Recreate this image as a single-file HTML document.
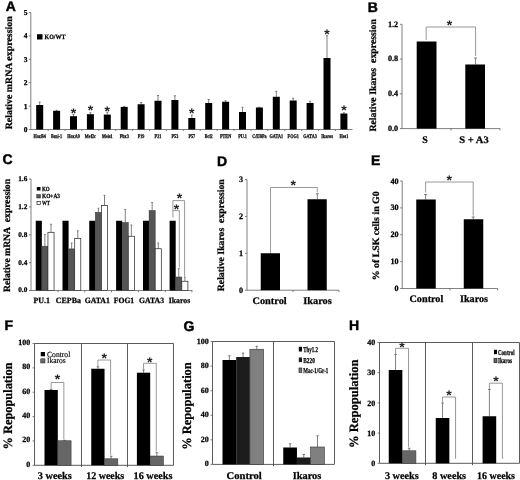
<!DOCTYPE html>
<html lang="en">
<head>
<meta charset="utf-8">
<title>Figure</title>
<style>
html,body{margin:0;padding:0;background:#fff;}
body{width:520px;height:480px;overflow:hidden;}
svg{display:block;text-rendering:geometricPrecision;}
text.s{font-family:'Liberation Serif', serif;font-weight:bold;stroke:#000;stroke-width:0.25px;}
text.r{font-family:'Liberation Serif', serif;font-weight:normal;stroke:#000;stroke-width:0.15px;}
text.a{font-family:'Liberation Sans', sans-serif;font-weight:bold;}
</style>
</head>
<body>
<svg width="520" height="480" viewBox="0 0 520 480">
<defs><filter id="soft" x="0" y="0" width="520" height="480" filterUnits="userSpaceOnUse"><feGaussianBlur stdDeviation="0.4"/></filter></defs>
<rect x="0" y="0" width="520" height="480" fill="#fff"/>
<g filter="url(#soft)">
<text class="a" x="5.80" y="10.80" font-size="14" stroke="#000" stroke-width="0.45">A</text>
<line x1="30.80" y1="12.50" x2="30.80" y2="129.50" stroke="#555" stroke-width="0.75"/>
<line x1="30.80" y1="129.50" x2="352.50" y2="129.50" stroke="#555" stroke-width="0.75"/>
<line x1="28.80" y1="129.50" x2="30.80" y2="129.50" stroke="#555" stroke-width="0.75"/>
<text class="s" x="27.50" y="132.00" font-size="7.5" text-anchor="end">0</text>
<line x1="28.80" y1="106.10" x2="30.80" y2="106.10" stroke="#555" stroke-width="0.75"/>
<text class="s" x="27.50" y="108.60" font-size="7.5" text-anchor="end">1</text>
<line x1="28.80" y1="82.70" x2="30.80" y2="82.70" stroke="#555" stroke-width="0.75"/>
<text class="s" x="27.50" y="85.20" font-size="7.5" text-anchor="end">2</text>
<line x1="28.80" y1="59.30" x2="30.80" y2="59.30" stroke="#555" stroke-width="0.75"/>
<text class="s" x="27.50" y="61.80" font-size="7.5" text-anchor="end">3</text>
<line x1="28.80" y1="35.90" x2="30.80" y2="35.90" stroke="#555" stroke-width="0.75"/>
<text class="s" x="27.50" y="38.40" font-size="7.5" text-anchor="end">4</text>
<line x1="28.80" y1="12.50" x2="30.80" y2="12.50" stroke="#555" stroke-width="0.75"/>
<text class="s" x="27.50" y="15.00" font-size="7.5" text-anchor="end">5</text>
<text class="s" x="12.10" y="72.80" font-size="9.7" text-anchor="middle" textLength="113.00" lengthAdjust="spacingAndGlyphs" transform="rotate(-90 12.10 72.80)">Relative mRNA expression</text>
<rect x="37.00" y="34.20" width="5.50" height="5.30" fill="#000"/>
<text class="s" x="44.50" y="39.30" font-size="6.6" textLength="21.00" lengthAdjust="spacingAndGlyphs">KO/WT</text>
<line x1="39.70" y1="102.10" x2="39.70" y2="105.00" stroke="#555" stroke-width="0.75"/>
<line x1="38.70" y1="102.10" x2="40.70" y2="102.10" stroke="#555" stroke-width="0.75"/>
<rect x="36.20" y="105.00" width="7.00" height="24.50" fill="#000"/>
<text class="s" x="39.70" y="137.80" font-size="5.6" text-anchor="middle" textLength="12.37" lengthAdjust="spacingAndGlyphs" stroke-width="0.4">HoxB4</text>
<line x1="48.15" y1="129.50" x2="48.15" y2="131.00" stroke="#555" stroke-width="0.75"/>
<line x1="56.60" y1="110.30" x2="56.60" y2="110.80" stroke="#555" stroke-width="0.75"/>
<line x1="55.60" y1="110.30" x2="57.60" y2="110.30" stroke="#555" stroke-width="0.75"/>
<rect x="53.10" y="110.80" width="7.00" height="18.70" fill="#000"/>
<text class="s" x="56.60" y="137.80" font-size="5.6" text-anchor="middle" textLength="10.97" lengthAdjust="spacingAndGlyphs" stroke-width="0.4">Bmi-1</text>
<line x1="65.05" y1="129.50" x2="65.05" y2="131.00" stroke="#555" stroke-width="0.75"/>
<line x1="73.50" y1="114.60" x2="73.50" y2="116.20" stroke="#555" stroke-width="0.75"/>
<line x1="72.50" y1="114.60" x2="74.50" y2="114.60" stroke="#555" stroke-width="0.75"/>
<rect x="70.00" y="116.20" width="7.00" height="13.30" fill="#000"/>
<text class="s" x="73.50" y="137.80" font-size="5.6" text-anchor="middle" textLength="12.60" lengthAdjust="spacingAndGlyphs" stroke-width="0.4">HoxA9</text>
<line x1="81.95" y1="129.50" x2="81.95" y2="131.00" stroke="#555" stroke-width="0.75"/>
<text class="a" x="73.50" y="117.67" font-size="14" text-anchor="middle" fill="#222">*</text>
<line x1="90.40" y1="112.80" x2="90.40" y2="114.20" stroke="#555" stroke-width="0.75"/>
<line x1="89.40" y1="112.80" x2="91.40" y2="112.80" stroke="#555" stroke-width="0.75"/>
<rect x="86.90" y="114.20" width="7.00" height="15.30" fill="#000"/>
<text class="s" x="90.40" y="137.80" font-size="5.6" text-anchor="middle" textLength="11.19" lengthAdjust="spacingAndGlyphs" stroke-width="0.4">Mef2c</text>
<line x1="98.85" y1="129.50" x2="98.85" y2="131.00" stroke="#555" stroke-width="0.75"/>
<text class="a" x="90.40" y="115.47" font-size="14" text-anchor="middle" fill="#222">*</text>
<line x1="107.30" y1="112.30" x2="107.30" y2="114.60" stroke="#555" stroke-width="0.75"/>
<line x1="106.30" y1="112.30" x2="108.30" y2="112.30" stroke="#555" stroke-width="0.75"/>
<rect x="103.80" y="114.60" width="7.00" height="14.90" fill="#000"/>
<text class="s" x="107.30" y="137.80" font-size="5.6" text-anchor="middle" textLength="10.73" lengthAdjust="spacingAndGlyphs" stroke-width="0.4">Meis1</text>
<line x1="115.75" y1="129.50" x2="115.75" y2="131.00" stroke="#555" stroke-width="0.75"/>
<text class="a" x="107.30" y="115.77" font-size="14" text-anchor="middle" fill="#222">*</text>
<line x1="124.20" y1="106.40" x2="124.20" y2="106.90" stroke="#555" stroke-width="0.75"/>
<line x1="123.20" y1="106.40" x2="125.20" y2="106.40" stroke="#555" stroke-width="0.75"/>
<rect x="120.70" y="106.90" width="7.00" height="22.60" fill="#000"/>
<text class="s" x="124.20" y="137.80" font-size="5.6" text-anchor="middle" textLength="9.10" lengthAdjust="spacingAndGlyphs" stroke-width="0.4">Pbx3</text>
<line x1="132.65" y1="129.50" x2="132.65" y2="131.00" stroke="#555" stroke-width="0.75"/>
<line x1="141.10" y1="102.50" x2="141.10" y2="104.25" stroke="#555" stroke-width="0.75"/>
<line x1="140.10" y1="102.50" x2="142.10" y2="102.50" stroke="#555" stroke-width="0.75"/>
<rect x="137.60" y="104.25" width="7.00" height="25.25" fill="#000"/>
<text class="s" x="141.10" y="137.80" font-size="5.6" text-anchor="middle" textLength="6.77" lengthAdjust="spacingAndGlyphs" stroke-width="0.4">P19</text>
<line x1="149.55" y1="129.50" x2="149.55" y2="131.00" stroke="#555" stroke-width="0.75"/>
<line x1="158.00" y1="95.50" x2="158.00" y2="100.75" stroke="#555" stroke-width="0.75"/>
<line x1="157.00" y1="95.50" x2="159.00" y2="95.50" stroke="#555" stroke-width="0.75"/>
<rect x="154.50" y="100.75" width="7.00" height="28.75" fill="#000"/>
<text class="s" x="158.00" y="137.80" font-size="5.6" text-anchor="middle" textLength="6.77" lengthAdjust="spacingAndGlyphs" stroke-width="0.4">P21</text>
<line x1="166.45" y1="129.50" x2="166.45" y2="131.00" stroke="#555" stroke-width="0.75"/>
<line x1="174.90" y1="95.75" x2="174.90" y2="100.00" stroke="#555" stroke-width="0.75"/>
<line x1="173.90" y1="95.75" x2="175.90" y2="95.75" stroke="#555" stroke-width="0.75"/>
<rect x="171.40" y="100.00" width="7.00" height="29.50" fill="#000"/>
<text class="s" x="174.90" y="137.80" font-size="5.6" text-anchor="middle" textLength="6.77" lengthAdjust="spacingAndGlyphs" stroke-width="0.4">P53</text>
<line x1="183.35" y1="129.50" x2="183.35" y2="131.00" stroke="#555" stroke-width="0.75"/>
<line x1="191.80" y1="115.00" x2="191.80" y2="118.00" stroke="#555" stroke-width="0.75"/>
<line x1="190.80" y1="115.00" x2="192.80" y2="115.00" stroke="#555" stroke-width="0.75"/>
<rect x="188.30" y="118.00" width="7.00" height="11.50" fill="#000"/>
<text class="s" x="191.80" y="137.80" font-size="5.6" text-anchor="middle" textLength="6.77" lengthAdjust="spacingAndGlyphs" stroke-width="0.4">P57</text>
<line x1="200.25" y1="129.50" x2="200.25" y2="131.00" stroke="#555" stroke-width="0.75"/>
<text class="a" x="191.80" y="118.27" font-size="14" text-anchor="middle" fill="#222">*</text>
<line x1="208.70" y1="99.50" x2="208.70" y2="103.00" stroke="#555" stroke-width="0.75"/>
<line x1="207.70" y1="99.50" x2="209.70" y2="99.50" stroke="#555" stroke-width="0.75"/>
<rect x="205.20" y="103.00" width="7.00" height="26.50" fill="#000"/>
<text class="s" x="208.70" y="137.80" font-size="5.6" text-anchor="middle" textLength="7.93" lengthAdjust="spacingAndGlyphs" stroke-width="0.4">Bcl2</text>
<line x1="217.15" y1="129.50" x2="217.15" y2="131.00" stroke="#555" stroke-width="0.75"/>
<line x1="225.60" y1="100.75" x2="225.60" y2="101.75" stroke="#555" stroke-width="0.75"/>
<line x1="224.60" y1="100.75" x2="226.60" y2="100.75" stroke="#555" stroke-width="0.75"/>
<rect x="222.10" y="101.75" width="7.00" height="27.75" fill="#000"/>
<text class="s" x="225.60" y="137.80" font-size="5.6" text-anchor="middle" textLength="11.20" lengthAdjust="spacingAndGlyphs" stroke-width="0.4">PTEN</text>
<line x1="234.05" y1="129.50" x2="234.05" y2="131.00" stroke="#555" stroke-width="0.75"/>
<line x1="242.50" y1="107.30" x2="242.50" y2="112.00" stroke="#555" stroke-width="0.75"/>
<line x1="241.50" y1="107.30" x2="243.50" y2="107.30" stroke="#555" stroke-width="0.75"/>
<rect x="239.00" y="112.00" width="7.00" height="17.50" fill="#000"/>
<text class="s" x="242.50" y="137.80" font-size="5.6" text-anchor="middle" textLength="8.75" lengthAdjust="spacingAndGlyphs" stroke-width="0.4">PU.1</text>
<line x1="250.95" y1="129.50" x2="250.95" y2="131.00" stroke="#555" stroke-width="0.75"/>
<line x1="259.40" y1="107.20" x2="259.40" y2="107.50" stroke="#555" stroke-width="0.75"/>
<line x1="258.40" y1="107.20" x2="260.40" y2="107.20" stroke="#555" stroke-width="0.75"/>
<rect x="255.90" y="107.50" width="7.00" height="22.00" fill="#000"/>
<text class="s" x="259.40" y="137.80" font-size="5.6" text-anchor="middle" textLength="14.47" lengthAdjust="spacingAndGlyphs" stroke-width="0.4">C/EBPa</text>
<line x1="267.85" y1="129.50" x2="267.85" y2="131.00" stroke="#555" stroke-width="0.75"/>
<line x1="276.30" y1="91.25" x2="276.30" y2="96.75" stroke="#555" stroke-width="0.75"/>
<line x1="275.30" y1="91.25" x2="277.30" y2="91.25" stroke="#555" stroke-width="0.75"/>
<rect x="272.80" y="96.75" width="7.00" height="32.75" fill="#000"/>
<text class="s" x="276.30" y="137.80" font-size="5.6" text-anchor="middle" textLength="13.61" lengthAdjust="spacingAndGlyphs" stroke-width="0.4">GATA1</text>
<line x1="284.75" y1="129.50" x2="284.75" y2="131.00" stroke="#555" stroke-width="0.75"/>
<line x1="293.20" y1="98.25" x2="293.20" y2="100.50" stroke="#555" stroke-width="0.75"/>
<line x1="292.20" y1="98.25" x2="294.20" y2="98.25" stroke="#555" stroke-width="0.75"/>
<rect x="289.70" y="100.50" width="7.00" height="29.00" fill="#000"/>
<text class="s" x="293.20" y="137.80" font-size="5.6" text-anchor="middle" textLength="11.20" lengthAdjust="spacingAndGlyphs" stroke-width="0.4">FOG1</text>
<line x1="301.65" y1="129.50" x2="301.65" y2="131.00" stroke="#555" stroke-width="0.75"/>
<line x1="310.10" y1="101.25" x2="310.10" y2="103.00" stroke="#555" stroke-width="0.75"/>
<line x1="309.10" y1="101.25" x2="311.10" y2="101.25" stroke="#555" stroke-width="0.75"/>
<rect x="306.60" y="103.00" width="7.00" height="26.50" fill="#000"/>
<text class="s" x="310.10" y="137.80" font-size="5.6" text-anchor="middle" textLength="13.61" lengthAdjust="spacingAndGlyphs" stroke-width="0.4">GATA3</text>
<line x1="318.55" y1="129.50" x2="318.55" y2="131.00" stroke="#555" stroke-width="0.75"/>
<line x1="327.00" y1="35.75" x2="327.00" y2="58.00" stroke="#555" stroke-width="0.75"/>
<line x1="326.00" y1="35.75" x2="328.00" y2="35.75" stroke="#555" stroke-width="0.75"/>
<rect x="323.50" y="58.00" width="7.00" height="71.50" fill="#000"/>
<text class="s" x="327.00" y="137.80" font-size="5.6" text-anchor="middle" textLength="11.59" lengthAdjust="spacingAndGlyphs" stroke-width="0.4">Ikaros</text>
<line x1="335.45" y1="129.50" x2="335.45" y2="131.00" stroke="#555" stroke-width="0.75"/>
<text class="a" x="327.00" y="39.07" font-size="14" text-anchor="middle" fill="#222">*</text>
<line x1="343.90" y1="112.80" x2="343.90" y2="113.50" stroke="#555" stroke-width="0.75"/>
<line x1="342.90" y1="112.80" x2="344.90" y2="112.80" stroke="#555" stroke-width="0.75"/>
<rect x="340.40" y="113.50" width="7.00" height="16.00" fill="#000"/>
<text class="s" x="343.90" y="137.80" font-size="5.6" text-anchor="middle" textLength="8.87" lengthAdjust="spacingAndGlyphs" stroke-width="0.4">Hes1</text>
<text class="a" x="343.90" y="115.07" font-size="14" text-anchor="middle" fill="#222">*</text>
<text class="a" x="367.80" y="11.50" font-size="14" stroke="#000" stroke-width="0.45">B</text>
<line x1="402.00" y1="24.30" x2="402.00" y2="128.60" stroke="#555" stroke-width="0.75"/>
<line x1="402.00" y1="128.60" x2="500.00" y2="128.60" stroke="#555" stroke-width="0.75"/>
<line x1="400.00" y1="128.60" x2="402.00" y2="128.60" stroke="#555" stroke-width="0.75"/>
<text class="s" x="398.20" y="130.80" font-size="8.2" text-anchor="end">0.0</text>
<line x1="400.00" y1="93.83" x2="402.00" y2="93.83" stroke="#555" stroke-width="0.75"/>
<text class="s" x="398.20" y="96.03" font-size="8.2" text-anchor="end">0.4</text>
<line x1="400.00" y1="59.07" x2="402.00" y2="59.07" stroke="#555" stroke-width="0.75"/>
<text class="s" x="398.20" y="61.27" font-size="8.2" text-anchor="end">0.8</text>
<line x1="400.00" y1="24.30" x2="402.00" y2="24.30" stroke="#555" stroke-width="0.75"/>
<text class="s" x="398.20" y="26.50" font-size="8.2" text-anchor="end">1.2</text>
<line x1="451.00" y1="128.60" x2="451.00" y2="130.40" stroke="#555" stroke-width="0.75"/>
<line x1="500.00" y1="128.60" x2="500.00" y2="130.40" stroke="#555" stroke-width="0.75"/>
<text class="s" x="376.10" y="75.30" font-size="9.7" text-anchor="middle" textLength="112.50" lengthAdjust="spacingAndGlyphs" transform="rotate(-90 376.10 75.30)">Relative Ikaros  expression</text>
<rect x="416.70" y="41.50" width="19.80" height="87.10" fill="#000"/>
<line x1="475.60" y1="58.00" x2="475.60" y2="64.50" stroke="#555" stroke-width="0.75"/>
<line x1="474.10" y1="58.00" x2="477.10" y2="58.00" stroke="#555" stroke-width="0.75"/>
<rect x="465.30" y="64.50" width="19.70" height="64.10" fill="#000"/>
<polyline points="426.20,40.00 426.20,27.00 475.60,27.00 475.60,56.00" fill="none" stroke="#777" stroke-width="0.75"/>
<text class="a" x="449.50" y="30.07" font-size="14" text-anchor="middle" fill="#222">*</text>
<text class="s" x="425.00" y="142.60" font-size="10" text-anchor="middle">S</text>
<text class="s" x="474.00" y="142.60" font-size="10" text-anchor="middle" textLength="29.50" lengthAdjust="spacingAndGlyphs">S + A3</text>
<text class="a" x="2.40" y="164.40" font-size="14" stroke="#000" stroke-width="0.45">C</text>
<line x1="31.00" y1="179.00" x2="31.00" y2="290.50" stroke="#555" stroke-width="0.75"/>
<line x1="31.00" y1="290.50" x2="192.50" y2="290.50" stroke="#555" stroke-width="0.75"/>
<line x1="29.00" y1="290.50" x2="31.00" y2="290.50" stroke="#555" stroke-width="0.75"/>
<text class="s" x="27.30" y="292.40" font-size="7.3" text-anchor="end">0.0</text>
<line x1="29.00" y1="262.62" x2="31.00" y2="262.62" stroke="#555" stroke-width="0.75"/>
<text class="s" x="27.30" y="264.52" font-size="7.3" text-anchor="end">0.4</text>
<line x1="29.00" y1="234.75" x2="31.00" y2="234.75" stroke="#555" stroke-width="0.75"/>
<text class="s" x="27.30" y="236.65" font-size="7.3" text-anchor="end">0.8</text>
<line x1="29.00" y1="206.88" x2="31.00" y2="206.88" stroke="#555" stroke-width="0.75"/>
<text class="s" x="27.30" y="208.78" font-size="7.3" text-anchor="end">1.2</text>
<line x1="29.00" y1="179.00" x2="31.00" y2="179.00" stroke="#555" stroke-width="0.75"/>
<text class="s" x="27.30" y="180.90" font-size="7.3" text-anchor="end">1.6</text>
<text class="s" x="9.70" y="235.50" font-size="9.7" text-anchor="middle" textLength="113.00" lengthAdjust="spacingAndGlyphs" transform="rotate(-90 9.70 235.50)">Relative mRNA  expression</text>
<rect x="36.80" y="187.00" width="3.70" height="3.50" fill="#000"/>
<text class="s" x="42.00" y="190.90" font-size="6.3" textLength="7.70" lengthAdjust="spacingAndGlyphs">KO</text>
<rect x="36.80" y="194.50" width="3.70" height="3.50" fill="#555" stroke="#222" stroke-width="0.5"/>
<text class="s" x="42.00" y="198.30" font-size="6.3" textLength="18.00" lengthAdjust="spacingAndGlyphs">KO+A3</text>
<rect x="37.00" y="201.40" width="3.30" height="3.00" fill="#fff" stroke="#222" stroke-width="0.7"/>
<text class="s" x="42.00" y="204.90" font-size="6.3" textLength="8.00" lengthAdjust="spacingAndGlyphs">WT</text>
<rect x="35.75" y="220.75" width="6.10" height="69.75" fill="#000"/>
<line x1="44.90" y1="234.60" x2="44.90" y2="246.20" stroke="#555" stroke-width="0.75"/>
<line x1="44.00" y1="234.60" x2="45.80" y2="234.60" stroke="#555" stroke-width="0.75"/>
<rect x="41.85" y="246.20" width="6.10" height="44.30" fill="#555" stroke="#333" stroke-width="0.5"/>
<line x1="51.00" y1="224.20" x2="51.00" y2="232.30" stroke="#555" stroke-width="0.75"/>
<line x1="50.10" y1="224.20" x2="51.90" y2="224.20" stroke="#555" stroke-width="0.75"/>
<rect x="47.95" y="232.30" width="6.10" height="58.20" fill="#fff" stroke="#222" stroke-width="0.7"/>
<text class="s" x="41.75" y="302.60" font-size="8" text-anchor="middle" textLength="16.50" lengthAdjust="spacingAndGlyphs">PU.1</text>
<line x1="58.05" y1="290.50" x2="58.05" y2="292.30" stroke="#555" stroke-width="0.75"/>
<rect x="62.50" y="220.75" width="6.10" height="69.75" fill="#000"/>
<line x1="71.65" y1="243.00" x2="71.65" y2="248.90" stroke="#555" stroke-width="0.75"/>
<line x1="70.75" y1="243.00" x2="72.55" y2="243.00" stroke="#555" stroke-width="0.75"/>
<rect x="68.60" y="248.90" width="6.10" height="41.60" fill="#555" stroke="#333" stroke-width="0.5"/>
<line x1="77.75" y1="230.80" x2="77.75" y2="238.50" stroke="#555" stroke-width="0.75"/>
<line x1="76.85" y1="230.80" x2="78.65" y2="230.80" stroke="#555" stroke-width="0.75"/>
<rect x="74.70" y="238.50" width="6.10" height="52.00" fill="#fff" stroke="#222" stroke-width="0.7"/>
<text class="s" x="68.35" y="302.60" font-size="8" text-anchor="middle" textLength="25.10" lengthAdjust="spacingAndGlyphs">CEPBa</text>
<line x1="84.80" y1="290.50" x2="84.80" y2="292.30" stroke="#555" stroke-width="0.75"/>
<rect x="89.25" y="220.75" width="6.10" height="69.75" fill="#000"/>
<line x1="98.40" y1="208.20" x2="98.40" y2="212.30" stroke="#555" stroke-width="0.75"/>
<line x1="97.50" y1="208.20" x2="99.30" y2="208.20" stroke="#555" stroke-width="0.75"/>
<rect x="95.35" y="212.30" width="6.10" height="78.20" fill="#555" stroke="#333" stroke-width="0.5"/>
<line x1="104.50" y1="195.40" x2="104.50" y2="205.40" stroke="#555" stroke-width="0.75"/>
<line x1="103.60" y1="195.40" x2="105.40" y2="195.40" stroke="#555" stroke-width="0.75"/>
<rect x="101.45" y="205.40" width="6.10" height="85.10" fill="#fff" stroke="#222" stroke-width="0.7"/>
<text class="s" x="97.30" y="302.60" font-size="8" text-anchor="middle" textLength="25.00" lengthAdjust="spacingAndGlyphs">GATA1</text>
<line x1="111.55" y1="290.50" x2="111.55" y2="292.30" stroke="#555" stroke-width="0.75"/>
<rect x="116.10" y="220.75" width="6.10" height="69.75" fill="#000"/>
<line x1="125.25" y1="209.50" x2="125.25" y2="222.50" stroke="#555" stroke-width="0.75"/>
<line x1="124.35" y1="209.50" x2="126.15" y2="209.50" stroke="#555" stroke-width="0.75"/>
<rect x="122.20" y="222.50" width="6.10" height="68.00" fill="#555" stroke="#333" stroke-width="0.5"/>
<line x1="131.35" y1="225.00" x2="131.35" y2="236.25" stroke="#555" stroke-width="0.75"/>
<line x1="130.45" y1="225.00" x2="132.25" y2="225.00" stroke="#555" stroke-width="0.75"/>
<rect x="128.30" y="236.25" width="6.10" height="54.25" fill="#fff" stroke="#222" stroke-width="0.7"/>
<text class="s" x="124.00" y="302.60" font-size="8" text-anchor="middle" textLength="20.40" lengthAdjust="spacingAndGlyphs">FOG1</text>
<line x1="138.40" y1="290.50" x2="138.40" y2="292.30" stroke="#555" stroke-width="0.75"/>
<rect x="143.00" y="220.75" width="6.10" height="69.75" fill="#000"/>
<line x1="152.15" y1="202.50" x2="152.15" y2="210.50" stroke="#555" stroke-width="0.75"/>
<line x1="151.25" y1="202.50" x2="153.05" y2="202.50" stroke="#555" stroke-width="0.75"/>
<rect x="149.10" y="210.50" width="6.10" height="80.00" fill="#555" stroke="#333" stroke-width="0.5"/>
<line x1="158.25" y1="243.00" x2="158.25" y2="248.75" stroke="#555" stroke-width="0.75"/>
<line x1="157.35" y1="243.00" x2="159.15" y2="243.00" stroke="#555" stroke-width="0.75"/>
<rect x="155.20" y="248.75" width="6.10" height="41.75" fill="#fff" stroke="#222" stroke-width="0.7"/>
<text class="s" x="151.50" y="302.60" font-size="8" text-anchor="middle" textLength="25.00" lengthAdjust="spacingAndGlyphs">GATA3</text>
<line x1="165.30" y1="290.50" x2="165.30" y2="292.30" stroke="#555" stroke-width="0.75"/>
<rect x="169.60" y="220.75" width="6.10" height="69.75" fill="#000"/>
<line x1="178.75" y1="268.75" x2="178.75" y2="277.00" stroke="#555" stroke-width="0.75"/>
<line x1="177.85" y1="268.75" x2="179.65" y2="268.75" stroke="#555" stroke-width="0.75"/>
<rect x="175.70" y="277.00" width="6.10" height="13.50" fill="#555" stroke="#333" stroke-width="0.5"/>
<line x1="184.85" y1="277.00" x2="184.85" y2="281.25" stroke="#555" stroke-width="0.75"/>
<line x1="183.95" y1="277.00" x2="185.75" y2="277.00" stroke="#555" stroke-width="0.75"/>
<rect x="181.80" y="281.25" width="6.10" height="9.25" fill="#fff" stroke="#222" stroke-width="0.7"/>
<text class="s" x="179.50" y="302.60" font-size="8" text-anchor="middle" textLength="21.40" lengthAdjust="spacingAndGlyphs">Ikaros</text>
<line x1="191.90" y1="290.50" x2="191.90" y2="292.30" stroke="#555" stroke-width="0.75"/>
<polyline points="172.90,217.50 172.90,200.60 184.60,200.60 184.60,276.00" fill="none" stroke="#777" stroke-width="0.75"/>
<polyline points="172.90,210.60 179.30,210.60 179.30,267.50" fill="none" stroke="#777" stroke-width="0.75"/>
<text class="a" x="179.40" y="203.07" font-size="14" text-anchor="middle" fill="#222">*</text>
<text class="a" x="176.50" y="213.67" font-size="14" text-anchor="middle" fill="#222">*</text>
<text class="a" x="217.00" y="166.30" font-size="14" stroke="#000" stroke-width="0.45">D</text>
<line x1="247.00" y1="179.50" x2="247.00" y2="290.20" stroke="#555" stroke-width="0.75"/>
<line x1="247.00" y1="290.20" x2="339.00" y2="290.20" stroke="#555" stroke-width="0.75"/>
<line x1="245.00" y1="290.20" x2="247.00" y2="290.20" stroke="#555" stroke-width="0.75"/>
<text class="s" x="243.00" y="292.70" font-size="8.2" text-anchor="end">0</text>
<line x1="245.00" y1="253.30" x2="247.00" y2="253.30" stroke="#555" stroke-width="0.75"/>
<text class="s" x="243.00" y="255.80" font-size="8.2" text-anchor="end">1</text>
<line x1="245.00" y1="216.40" x2="247.00" y2="216.40" stroke="#555" stroke-width="0.75"/>
<text class="s" x="243.00" y="218.90" font-size="8.2" text-anchor="end">2</text>
<line x1="245.00" y1="179.50" x2="247.00" y2="179.50" stroke="#555" stroke-width="0.75"/>
<text class="s" x="243.00" y="182.00" font-size="8.2" text-anchor="end">3</text>
<line x1="293.00" y1="290.20" x2="293.00" y2="292.00" stroke="#555" stroke-width="0.75"/>
<line x1="339.00" y1="290.20" x2="339.00" y2="292.00" stroke="#555" stroke-width="0.75"/>
<text class="s" x="224.00" y="235.20" font-size="9.7" text-anchor="middle" textLength="112.00" lengthAdjust="spacingAndGlyphs" transform="rotate(-90 224.00 235.20)">Relative Ikaros  expression</text>
<rect x="260.75" y="253.25" width="19.25" height="36.95" fill="#000"/>
<line x1="317.30" y1="193.75" x2="317.30" y2="199.25" stroke="#555" stroke-width="0.75"/>
<line x1="315.80" y1="193.75" x2="318.80" y2="193.75" stroke="#555" stroke-width="0.75"/>
<rect x="307.50" y="199.25" width="19.25" height="90.95" fill="#000"/>
<polyline points="270.50,253.00 270.50,187.50 317.30,187.50 317.30,192.50" fill="none" stroke="#777" stroke-width="0.75"/>
<text class="a" x="293.30" y="189.57" font-size="14" text-anchor="middle" fill="#222">*</text>
<text class="s" x="269.60" y="303.70" font-size="10" text-anchor="middle" textLength="34.20" lengthAdjust="spacingAndGlyphs">Control</text>
<text class="s" x="317.50" y="303.70" font-size="10" text-anchor="middle" textLength="28.50" lengthAdjust="spacingAndGlyphs">Ikaros</text>
<text class="a" x="371.00" y="165.00" font-size="14" stroke="#000" stroke-width="0.45">E</text>
<line x1="402.20" y1="181.00" x2="402.20" y2="288.50" stroke="#555" stroke-width="0.75"/>
<line x1="402.20" y1="288.50" x2="497.50" y2="288.50" stroke="#555" stroke-width="0.75"/>
<line x1="400.20" y1="288.50" x2="402.20" y2="288.50" stroke="#555" stroke-width="0.75"/>
<text class="s" x="398.60" y="291.00" font-size="8.2" text-anchor="end">0</text>
<line x1="400.20" y1="261.62" x2="402.20" y2="261.62" stroke="#555" stroke-width="0.75"/>
<text class="s" x="398.60" y="264.12" font-size="8.2" text-anchor="end">10</text>
<line x1="400.20" y1="234.75" x2="402.20" y2="234.75" stroke="#555" stroke-width="0.75"/>
<text class="s" x="398.60" y="237.25" font-size="8.2" text-anchor="end">20</text>
<line x1="400.20" y1="207.88" x2="402.20" y2="207.88" stroke="#555" stroke-width="0.75"/>
<text class="s" x="398.60" y="210.38" font-size="8.2" text-anchor="end">30</text>
<line x1="400.20" y1="181.00" x2="402.20" y2="181.00" stroke="#555" stroke-width="0.75"/>
<text class="s" x="398.60" y="183.50" font-size="8.2" text-anchor="end">40</text>
<line x1="450.00" y1="288.50" x2="450.00" y2="290.30" stroke="#555" stroke-width="0.75"/>
<line x1="497.50" y1="288.50" x2="497.50" y2="290.30" stroke="#555" stroke-width="0.75"/>
<text class="s" x="378.70" y="235.80" font-size="9.7" text-anchor="middle" textLength="89.00" lengthAdjust="spacingAndGlyphs" transform="rotate(-90 378.70 235.80)">% of LSK cells in G0</text>
<line x1="425.60" y1="194.50" x2="425.60" y2="199.50" stroke="#555" stroke-width="0.75"/>
<line x1="424.10" y1="194.50" x2="427.10" y2="194.50" stroke="#555" stroke-width="0.75"/>
<rect x="416.25" y="199.50" width="19.50" height="89.00" fill="#000"/>
<line x1="473.20" y1="217.00" x2="473.20" y2="219.25" stroke="#555" stroke-width="0.75"/>
<line x1="471.70" y1="217.00" x2="474.70" y2="217.00" stroke="#555" stroke-width="0.75"/>
<rect x="463.75" y="219.25" width="19.50" height="69.25" fill="#000"/>
<polyline points="425.60,192.50 425.60,182.00 473.20,182.00 473.20,215.50" fill="none" stroke="#777" stroke-width="0.75"/>
<text class="a" x="449.30" y="184.57" font-size="14" text-anchor="middle" fill="#222">*</text>
<text class="s" x="426.40" y="302.20" font-size="10" text-anchor="middle" textLength="33.80" lengthAdjust="spacingAndGlyphs">Control</text>
<text class="s" x="474.00" y="302.20" font-size="10" text-anchor="middle" textLength="28.00" lengthAdjust="spacingAndGlyphs">Ikaros</text>
<text class="a" x="4.50" y="330.00" font-size="14" stroke="#000" stroke-width="0.45">F</text>
<line x1="34.50" y1="343.50" x2="34.50" y2="465.30" stroke="#4a4a4a" stroke-width="0.9"/>
<line x1="34.50" y1="343.50" x2="173.50" y2="343.50" stroke="#4a4a4a" stroke-width="0.9"/>
<line x1="173.50" y1="343.50" x2="173.50" y2="465.30" stroke="#4a4a4a" stroke-width="0.9"/>
<line x1="34.50" y1="465.30" x2="173.50" y2="465.30" stroke="#4a4a4a" stroke-width="0.9"/>
<line x1="81.50" y1="343.50" x2="81.50" y2="467.10" stroke="#4a4a4a" stroke-width="0.9"/>
<line x1="127.50" y1="343.50" x2="127.50" y2="467.10" stroke="#4a4a4a" stroke-width="0.9"/>
<line x1="32.50" y1="465.30" x2="34.50" y2="465.30" stroke="#555" stroke-width="0.75"/>
<text class="s" x="30.30" y="466.70" font-size="8" text-anchor="end">0</text>
<line x1="32.50" y1="440.94" x2="34.50" y2="440.94" stroke="#555" stroke-width="0.75"/>
<text class="s" x="30.30" y="442.34" font-size="8" text-anchor="end">20</text>
<line x1="32.50" y1="416.58" x2="34.50" y2="416.58" stroke="#555" stroke-width="0.75"/>
<text class="s" x="30.30" y="417.98" font-size="8" text-anchor="end">40</text>
<line x1="32.50" y1="392.22" x2="34.50" y2="392.22" stroke="#555" stroke-width="0.75"/>
<text class="s" x="30.30" y="393.62" font-size="8" text-anchor="end">60</text>
<line x1="32.50" y1="367.86" x2="34.50" y2="367.86" stroke="#555" stroke-width="0.75"/>
<text class="s" x="30.30" y="369.26" font-size="8" text-anchor="end">80</text>
<line x1="32.50" y1="343.50" x2="34.50" y2="343.50" stroke="#555" stroke-width="0.75"/>
<text class="s" x="30.30" y="344.90" font-size="8" text-anchor="end">100</text>
<text class="s" x="11.90" y="406.00" font-size="12.8" text-anchor="middle" textLength="87.00" lengthAdjust="spacingAndGlyphs" transform="rotate(-90 11.90 406.00)">% Repopulation</text>
<rect x="40.75" y="352.00" width="4.25" height="4.30" fill="#000"/>
<text class="r" x="47.00" y="356.70" font-size="7.8" textLength="23.30" lengthAdjust="spacingAndGlyphs">Control</text>
<rect x="40.75" y="358.80" width="4.25" height="4.20" fill="#666" stroke="#222" stroke-width="0.5"/>
<text class="r" x="47.00" y="363.40" font-size="7.8" textLength="18.80" lengthAdjust="spacingAndGlyphs">Ikaros</text>
<line x1="51.15" y1="389.30" x2="51.15" y2="390.00" stroke="#555" stroke-width="0.75"/>
<line x1="49.85" y1="389.30" x2="52.45" y2="389.30" stroke="#555" stroke-width="0.75"/>
<rect x="44.50" y="390.00" width="13.30" height="75.30" fill="#000"/>
<line x1="64.45" y1="440.30" x2="64.45" y2="440.75" stroke="#555" stroke-width="0.75"/>
<line x1="63.15" y1="440.30" x2="65.75" y2="440.30" stroke="#555" stroke-width="0.75"/>
<rect x="57.80" y="440.75" width="13.30" height="24.55" fill="#666" stroke="#333" stroke-width="0.5"/>
<polyline points="51.15,388.80 51.15,382.50 63.85,382.50 63.85,439.30" fill="none" stroke="#777" stroke-width="0.75"/>
<text class="a" x="57.45" y="384.37" font-size="14" text-anchor="middle" fill="#222">*</text>
<line x1="97.90" y1="366.80" x2="97.90" y2="368.75" stroke="#555" stroke-width="0.75"/>
<line x1="96.60" y1="366.80" x2="99.20" y2="366.80" stroke="#555" stroke-width="0.75"/>
<rect x="91.25" y="368.75" width="13.30" height="96.55" fill="#000"/>
<line x1="111.20" y1="456.25" x2="111.20" y2="458.75" stroke="#555" stroke-width="0.75"/>
<line x1="109.90" y1="456.25" x2="112.50" y2="456.25" stroke="#555" stroke-width="0.75"/>
<rect x="104.55" y="458.75" width="13.30" height="6.55" fill="#666" stroke="#333" stroke-width="0.5"/>
<polyline points="97.90,366.30 97.90,360.00 110.60,360.00 110.60,455.25" fill="none" stroke="#777" stroke-width="0.75"/>
<text class="a" x="104.20" y="362.67" font-size="14" text-anchor="middle" fill="#222">*</text>
<line x1="143.55" y1="370.00" x2="143.55" y2="372.70" stroke="#555" stroke-width="0.75"/>
<line x1="142.25" y1="370.00" x2="144.85" y2="370.00" stroke="#555" stroke-width="0.75"/>
<rect x="136.90" y="372.70" width="13.30" height="92.60" fill="#000"/>
<line x1="156.85" y1="452.70" x2="156.85" y2="456.00" stroke="#555" stroke-width="0.75"/>
<line x1="155.55" y1="452.70" x2="158.15" y2="452.70" stroke="#555" stroke-width="0.75"/>
<rect x="150.20" y="456.00" width="13.30" height="9.30" fill="#666" stroke="#333" stroke-width="0.5"/>
<polyline points="143.55,369.50 143.55,363.30 156.25,363.30 156.25,451.70" fill="none" stroke="#777" stroke-width="0.75"/>
<text class="a" x="149.85" y="366.57" font-size="14" text-anchor="middle" fill="#222">*</text>
<text class="s" x="54.80" y="479.00" font-size="10.2" text-anchor="middle" textLength="34.00" lengthAdjust="spacingAndGlyphs">3 weeks</text>
<text class="s" x="105.20" y="479.00" font-size="10.2" text-anchor="middle" textLength="38.00" lengthAdjust="spacingAndGlyphs">12 weeks</text>
<text class="s" x="153.00" y="479.00" font-size="10.2" text-anchor="middle" textLength="38.80" lengthAdjust="spacingAndGlyphs">16 weeks</text>
<text class="a" x="183.60" y="330.80" font-size="14" stroke="#000" stroke-width="0.45">G</text>
<line x1="212.50" y1="341.50" x2="212.50" y2="464.40" stroke="#4a4a4a" stroke-width="0.9"/>
<line x1="212.50" y1="341.50" x2="334.50" y2="341.50" stroke="#4a4a4a" stroke-width="0.9"/>
<line x1="334.50" y1="341.50" x2="334.50" y2="464.40" stroke="#4a4a4a" stroke-width="0.9"/>
<line x1="212.50" y1="464.40" x2="334.50" y2="464.40" stroke="#4a4a4a" stroke-width="0.9"/>
<line x1="273.50" y1="341.50" x2="273.50" y2="466.20" stroke="#4a4a4a" stroke-width="0.9"/>
<line x1="210.50" y1="464.40" x2="212.50" y2="464.40" stroke="#555" stroke-width="0.75"/>
<text class="s" x="208.80" y="466.40" font-size="8" text-anchor="end">0</text>
<line x1="210.50" y1="439.82" x2="212.50" y2="439.82" stroke="#555" stroke-width="0.75"/>
<text class="s" x="208.80" y="441.82" font-size="8" text-anchor="end">20</text>
<line x1="210.50" y1="415.24" x2="212.50" y2="415.24" stroke="#555" stroke-width="0.75"/>
<text class="s" x="208.80" y="417.24" font-size="8" text-anchor="end">40</text>
<line x1="210.50" y1="390.66" x2="212.50" y2="390.66" stroke="#555" stroke-width="0.75"/>
<text class="s" x="208.80" y="392.66" font-size="8" text-anchor="end">60</text>
<line x1="210.50" y1="366.08" x2="212.50" y2="366.08" stroke="#555" stroke-width="0.75"/>
<text class="s" x="208.80" y="368.08" font-size="8" text-anchor="end">80</text>
<line x1="210.50" y1="341.50" x2="212.50" y2="341.50" stroke="#555" stroke-width="0.75"/>
<text class="s" x="208.80" y="343.50" font-size="8" text-anchor="end">100</text>
<text class="s" x="190.60" y="406.00" font-size="12.8" text-anchor="middle" textLength="87.50" lengthAdjust="spacingAndGlyphs" transform="rotate(-90 190.60 406.00)">% Repopulation</text>
<rect x="298.80" y="346.80" width="3.20" height="4.70" fill="#000"/>
<text class="s" x="303.30" y="351.80" font-size="7.5" textLength="14.70" lengthAdjust="spacingAndGlyphs">Thy1.2</text>
<rect x="298.80" y="357.50" width="3.20" height="4.60" fill="#1c1c1c"/>
<text class="s" x="303.30" y="362.50" font-size="7.5" textLength="11.50" lengthAdjust="spacingAndGlyphs">B220</text>
<rect x="299.00" y="368.00" width="2.80" height="4.40" fill="#777" stroke="#222" stroke-width="0.7"/>
<text class="s" x="303.30" y="373.00" font-size="7.5" textLength="25.00" lengthAdjust="spacingAndGlyphs">Mac-1/Gr-1</text>
<line x1="229.35" y1="355.75" x2="229.35" y2="360.00" stroke="#555" stroke-width="0.75"/>
<line x1="228.15" y1="355.75" x2="230.55" y2="355.75" stroke="#555" stroke-width="0.75"/>
<rect x="222.50" y="360.00" width="13.70" height="104.40" fill="#000"/>
<line x1="243.05" y1="353.00" x2="243.05" y2="357.00" stroke="#555" stroke-width="0.75"/>
<line x1="241.85" y1="353.00" x2="244.25" y2="353.00" stroke="#555" stroke-width="0.75"/>
<rect x="236.20" y="357.00" width="13.70" height="107.40" fill="#1c1c1c"/>
<line x1="256.75" y1="346.25" x2="256.75" y2="349.25" stroke="#555" stroke-width="0.75"/>
<line x1="255.55" y1="346.25" x2="257.95" y2="346.25" stroke="#555" stroke-width="0.75"/>
<rect x="249.90" y="349.25" width="13.70" height="115.15" fill="#808080" stroke="#333" stroke-width="0.6"/>
<line x1="290.10" y1="443.75" x2="290.10" y2="447.50" stroke="#555" stroke-width="0.75"/>
<line x1="288.90" y1="443.75" x2="291.30" y2="443.75" stroke="#555" stroke-width="0.75"/>
<rect x="283.25" y="447.50" width="13.70" height="16.90" fill="#000"/>
<line x1="303.80" y1="454.50" x2="303.80" y2="457.50" stroke="#555" stroke-width="0.75"/>
<line x1="302.60" y1="454.50" x2="305.00" y2="454.50" stroke="#555" stroke-width="0.75"/>
<rect x="296.95" y="457.50" width="13.70" height="6.90" fill="#1c1c1c"/>
<line x1="317.50" y1="435.75" x2="317.50" y2="447.00" stroke="#555" stroke-width="0.75"/>
<line x1="316.30" y1="435.75" x2="318.70" y2="435.75" stroke="#555" stroke-width="0.75"/>
<rect x="310.65" y="447.00" width="13.70" height="17.40" fill="#808080" stroke="#333" stroke-width="0.6"/>
<text class="s" x="244.20" y="479.00" font-size="10.2" text-anchor="middle" textLength="35.20" lengthAdjust="spacingAndGlyphs">Control</text>
<text class="s" x="307.00" y="479.00" font-size="10.2" text-anchor="middle" textLength="28.60" lengthAdjust="spacingAndGlyphs">Ikaros</text>
<text class="a" x="349.00" y="330.00" font-size="14" stroke="#000" stroke-width="0.45">H</text>
<line x1="379.50" y1="342.50" x2="379.50" y2="463.30" stroke="#4a4a4a" stroke-width="0.9"/>
<line x1="379.50" y1="342.50" x2="519.50" y2="342.50" stroke="#4a4a4a" stroke-width="0.9"/>
<line x1="519.50" y1="342.50" x2="519.50" y2="463.30" stroke="#4a4a4a" stroke-width="0.9"/>
<line x1="379.50" y1="463.30" x2="519.50" y2="463.30" stroke="#4a4a4a" stroke-width="0.9"/>
<line x1="425.50" y1="342.50" x2="425.50" y2="465.10" stroke="#4a4a4a" stroke-width="0.9"/>
<line x1="472.50" y1="342.50" x2="472.50" y2="465.10" stroke="#4a4a4a" stroke-width="0.9"/>
<line x1="377.50" y1="463.30" x2="379.50" y2="463.30" stroke="#555" stroke-width="0.75"/>
<text class="s" x="375.30" y="465.90" font-size="8" text-anchor="end">0</text>
<line x1="377.50" y1="433.10" x2="379.50" y2="433.10" stroke="#555" stroke-width="0.75"/>
<text class="s" x="375.30" y="435.70" font-size="8" text-anchor="end">10</text>
<line x1="377.50" y1="402.90" x2="379.50" y2="402.90" stroke="#555" stroke-width="0.75"/>
<text class="s" x="375.30" y="405.50" font-size="8" text-anchor="end">20</text>
<line x1="377.50" y1="372.70" x2="379.50" y2="372.70" stroke="#555" stroke-width="0.75"/>
<text class="s" x="375.30" y="375.30" font-size="8" text-anchor="end">30</text>
<line x1="377.50" y1="342.50" x2="379.50" y2="342.50" stroke="#555" stroke-width="0.75"/>
<text class="s" x="375.30" y="345.10" font-size="8" text-anchor="end">40</text>
<text class="s" x="357.60" y="403.75" font-size="12.8" text-anchor="middle" textLength="88.50" lengthAdjust="spacingAndGlyphs" transform="rotate(-90 357.60 403.75)">% Repopulation</text>
<rect x="494.00" y="349.80" width="3.00" height="4.40" fill="#000"/>
<text class="s" x="498.00" y="354.60" font-size="7.5" textLength="16.60" lengthAdjust="spacingAndGlyphs">Control</text>
<rect x="494.00" y="358.30" width="3.00" height="4.40" fill="#666" stroke="#222" stroke-width="0.7"/>
<text class="s" x="498.00" y="363.30" font-size="7.5" textLength="14.00" lengthAdjust="spacingAndGlyphs">Ikaros</text>
<line x1="395.55" y1="354.50" x2="395.55" y2="370.00" stroke="#555" stroke-width="0.75"/>
<line x1="394.25" y1="354.50" x2="396.85" y2="354.50" stroke="#555" stroke-width="0.75"/>
<rect x="388.75" y="370.00" width="13.60" height="93.30" fill="#000"/>
<line x1="409.15" y1="448.25" x2="409.15" y2="450.75" stroke="#555" stroke-width="0.75"/>
<line x1="407.85" y1="448.25" x2="410.45" y2="448.25" stroke="#555" stroke-width="0.75"/>
<rect x="402.35" y="450.75" width="13.60" height="12.55" fill="#666" stroke="#333" stroke-width="0.5"/>
<polyline points="395.55,354.00 395.55,348.30 408.55,348.30 408.55,447.25" fill="none" stroke="#777" stroke-width="0.75"/>
<text class="a" x="402.05" y="352.07" font-size="14" text-anchor="middle" fill="#222">*</text>
<line x1="442.55" y1="403.00" x2="442.55" y2="418.00" stroke="#555" stroke-width="0.75"/>
<line x1="441.25" y1="403.00" x2="443.85" y2="403.00" stroke="#555" stroke-width="0.75"/>
<rect x="435.75" y="418.00" width="13.60" height="45.30" fill="#000"/>
<polyline points="442.55,402.50 442.55,397.00 455.55,397.00 455.55,458.80" fill="none" stroke="#777" stroke-width="0.75"/>
<text class="a" x="449.05" y="400.07" font-size="14" text-anchor="middle" fill="#222">*</text>
<line x1="489.40" y1="389.50" x2="489.40" y2="416.25" stroke="#555" stroke-width="0.75"/>
<line x1="488.10" y1="389.50" x2="490.70" y2="389.50" stroke="#555" stroke-width="0.75"/>
<rect x="482.60" y="416.25" width="13.60" height="47.05" fill="#000"/>
<polyline points="489.40,389.00 489.40,383.20 502.40,383.20 502.40,458.80" fill="none" stroke="#777" stroke-width="0.75"/>
<text class="a" x="495.90" y="385.87" font-size="14" text-anchor="middle" fill="#222">*</text>
<text class="s" x="401.80" y="479.00" font-size="10.2" text-anchor="middle" textLength="33.80" lengthAdjust="spacingAndGlyphs">3 weeks</text>
<text class="s" x="449.20" y="479.00" font-size="10.2" text-anchor="middle" textLength="33.80" lengthAdjust="spacingAndGlyphs">8 weeks</text>
<text class="s" x="496.00" y="479.00" font-size="10.2" text-anchor="middle" textLength="38.00" lengthAdjust="spacingAndGlyphs">16 weeks</text>
</g>
</svg>
</body>
</html>
